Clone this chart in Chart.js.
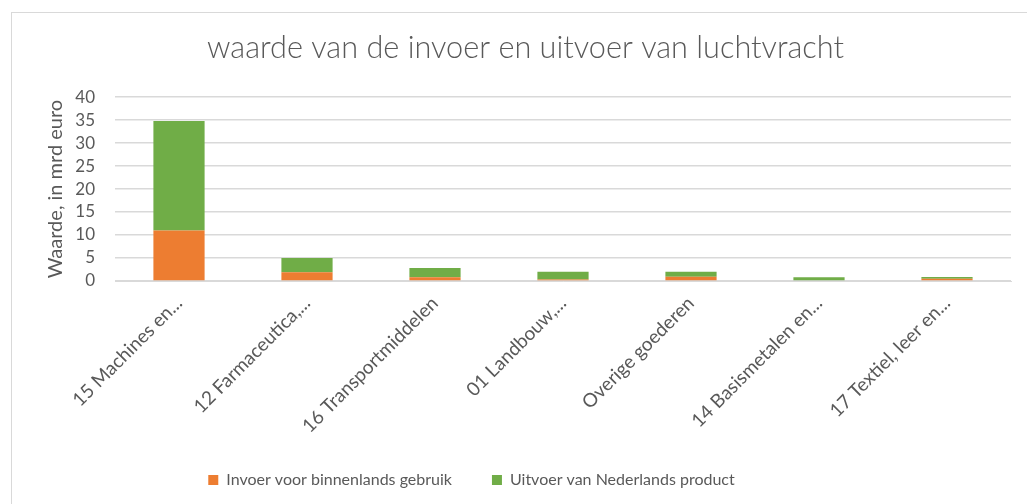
<!DOCTYPE html>
<html>
<head>
<meta charset="utf-8">
<script src="https://cdn.jsdelivr.net/npm/chart.js@4"></script>
<style>
  html, body { margin: 0; padding: 0; background: #fff; }
  #wrap { position: relative; width: 1027px; height: 504px; overflow: hidden; }
  #frame { position: absolute; left: 11px; top: 12px; width: 1100px; height: 600px; border: 1px solid #d9d9d9; }
  #chart { position: absolute; left: 0; top: 0; }
</style>
</head>
<body>
<div id="wrap">
  <div id="frame"></div>
  <canvas id="chart" width="1027" height="504"></canvas>
</div>
<script>
// Categories and values (mrd euro)
const categories = [
    '15 Machines en...',
    '12 Farmaceutica,...',
    '16 Transportmiddelen',
    '01 Landbouw,...',
    'Overige goederen',
    '14 Basismetalen en...',
    '17 Textiel, leer en...'
];
const invoer = [11, 1.9, 0.8, 0.3, 0.9, 0, 0.5];
const uitvoer = [23.8, 3.1, 2.0, 1.7, 1.1, 0.8, 0.35];
const yTicks = [0, 5, 10, 15, 20, 25, 30, 35, 40];

const textColor = '#595959';
const gridColor = '#d9d9d9';
const fontFamily = 'Lato, "Open Sans", sans-serif';

// The legend in the picture sits a bit left of the centre
const legendShift = {
    id: 'legendShift',
    afterLayout: function(chart) {
        chart.legend.left -= 54;
        chart.legend.right -= 54;
    }
};

const ctx = document.getElementById('chart').getContext('2d');

new Chart(ctx, {
    type: 'bar',
    data: {
        labels: categories,
        datasets: [{
            label: 'Invoer voor binnenlands gebruik',
            data: invoer,
            backgroundColor: '#ED7D31'
        }, {
            label: 'Uitvoer van Nederlands product',
            data: uitvoer,
            backgroundColor: '#70AD47'
        }]
    },
    options: {
        responsive: false,
        animation: false,
        layout: {
            padding: { left: 40, right: 16, top: 0, bottom: 6 }
        },
        datasets: {
            bar: { categoryPercentage: 1, barPercentage: 0.4 }
        },
        scales: {
            x: {
                stacked: true,
                grid: { display: false },
                border: { color: gridColor },
                ticks: {
                    color: textColor,
                    font: { family: fontFamily, size: 19 },
                    minRotation: 45,
                    maxRotation: 45,
                    autoSkip: false
                },
                afterFit: function(scale) { scale.height = 151; }
            },
            y: {
                stacked: true,
                min: 0,
                max: 40,
                afterBuildTicks: function(scale) {
                    scale.ticks = yTicks.map(v => ({ value: v }));
                },
                grid: { color: gridColor, lineWidth: 1.5, drawTicks: false },
                border: { display: false },
                ticks: {
                    color: textColor,
                    font: { family: fontFamily, size: 17 },
                    padding: 20,
                    stepSize: 5,
                    autoSkip: false
                },
                title: {
                    display: true,
                    text: 'Waarde, in mrd euro',
                    color: textColor,
                    font: { family: fontFamily, size: 20 },
                    padding: { top: 4, bottom: 4 }
                },
                afterFit: function(scale) { scale.width = 75; }
            }
        },
        plugins: {
            title: {
                display: true,
                text: 'waarde van de invoer en uitvoer van luchtvracht',
                color: textColor,
                font: { family: fontFamily, size: 30.7, weight: '300' },
                padding: { top: 29.6, bottom: 30.6 }
            },
            legend: {
                position: 'bottom',
                labels: {
                    color: textColor,
                    font: { family: fontFamily, size: 16 },
                    boxWidth: 10,
                    boxHeight: 10,
                    padding: 40
                }
            },
            tooltip: { enabled: false }
        }
    },
    plugins: [legendShift]
});
</script>
</body>
</html>
